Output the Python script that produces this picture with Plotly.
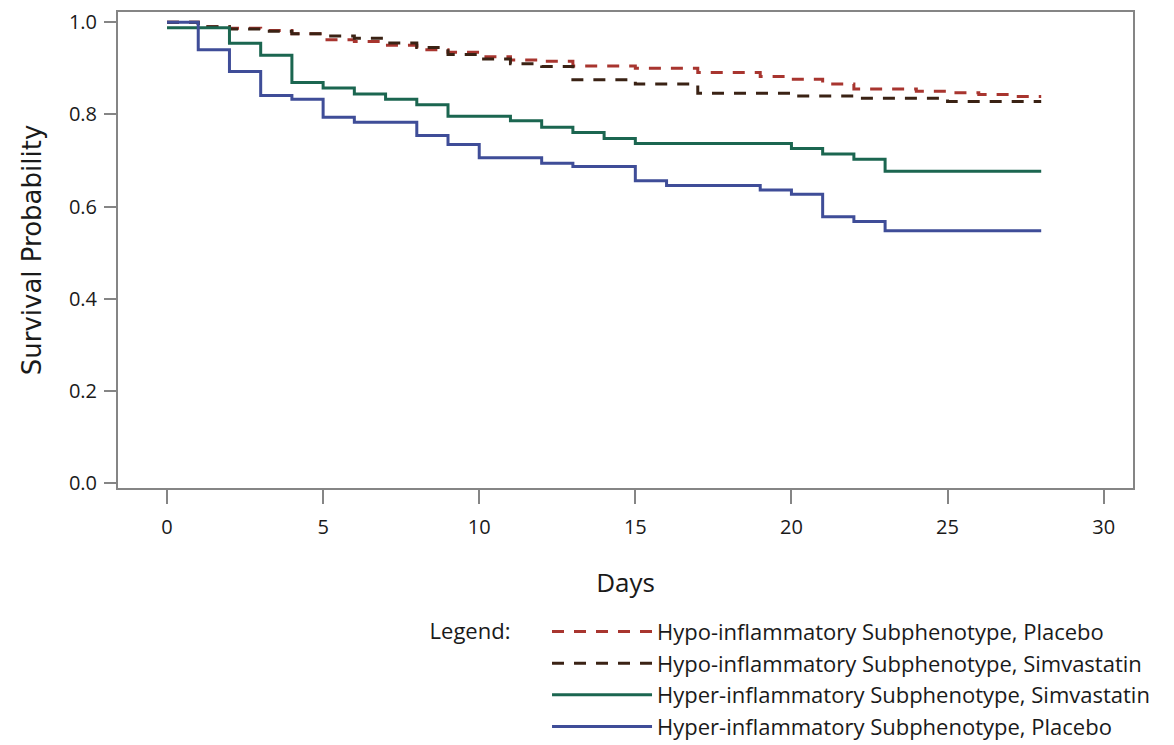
import plotly.graph_objects as go

# ---- data ----
hypo_pla_days = [0, 1, 2, 3, 4, 5, 6, 7, 8, 9, 10, 11, 12, 13, 15, 17, 19, 20, 21, 22, 24, 25, 26, 27, 28]
hypo_pla_surv = [1.0, 0.99, 0.987, 0.982, 0.975, 0.962, 0.958, 0.95, 0.94, 0.935, 0.925, 0.918, 0.915,
                 0.905, 0.90, 0.891, 0.882, 0.876, 0.866, 0.855, 0.85, 0.847, 0.843, 0.839, 0.839]

hypo_sim_days = [0, 1, 2, 3, 4, 5, 6, 7, 8, 9, 10, 11, 12, 13, 15, 17, 20, 22, 25, 28]
hypo_sim_surv = [1.0, 0.99, 0.985, 0.98, 0.975, 0.97, 0.965, 0.955, 0.945, 0.93, 0.92, 0.91, 0.904,
                 0.875, 0.866, 0.846, 0.84, 0.835, 0.828, 0.828]

hyper_sim_days = [0, 2, 3, 4, 5, 6, 7, 8, 9, 11, 12, 13, 14, 15, 20, 21, 22, 23, 28]
hyper_sim_surv = [0.988, 0.954, 0.928, 0.869, 0.857, 0.844, 0.833, 0.821, 0.796, 0.786, 0.772, 0.761,
                  0.748, 0.737, 0.726, 0.714, 0.703, 0.677, 0.677]

hyper_pla_days = [0, 1, 2, 3, 4, 5, 6, 8, 9, 10, 12, 13, 15, 16, 19, 20, 21, 22, 23, 28]
hyper_pla_surv = [1.0, 0.94, 0.893, 0.841, 0.833, 0.794, 0.783, 0.754, 0.735, 0.706, 0.694, 0.687,
                  0.656, 0.646, 0.636, 0.627, 0.578, 0.568, 0.548, 0.548]

series_names = ["Hypo-inflammatory Subphenotype, Placebo",
                "Hypo-inflammatory Subphenotype, Simvastatin",
                "Hyper-inflammatory Subphenotype, Simvastatin",
                "Hyper-inflammatory Subphenotype, Placebo"]

x_ticks = [0, 5, 10, 15, 20, 25, 30]
y_ticks = [0.0, 0.2, 0.4, 0.6, 0.8, 1.0]
y_tick_labels = ["0.0", "0.2", "0.4", "0.6", "0.8", "1.0"]

# ---- styles ----
colors = ["#A8352F", "#3A2214", "#1B6650", "#3F4D98"]
dashes = ["dash", "dash", "solid", "solid"]
data = [(hypo_pla_days, hypo_pla_surv), (hypo_sim_days, hypo_sim_surv),
        (hyper_sim_days, hyper_sim_surv), (hyper_pla_days, hyper_pla_surv)]

fig = go.Figure()
for i, (d, s) in enumerate(data):
    fig.add_trace(go.Scatter(
        x=d, y=s, mode="lines", line_shape="hv", name=series_names[i],
        line=dict(color=colors[i], width=3, dash="12px,10px" if dashes[i] == "dash" else "solid"),
        legendgroup=f"g{i}",
    ))

axis_common = dict(showline=True, linecolor="#858585", linewidth=2, mirror=True,
                   ticks="outside", tickcolor="#858585", tickwidth=2,
                   showgrid=False, zeroline=False,
                   tickfont=dict(family="Open Sans", size=20, color="#1a1a1a"))

fig.update_layout(
    width=1174, height=745,
    paper_bgcolor="white", plot_bgcolor="white",
    margin=dict(l=110, r=49, t=4, b=265, autoexpand=False),
    xaxis=dict(range=[-1.57, 30.94], tickvals=x_ticks, ticklen=14, ticklabelstandoff=6,
               title=dict(text="Days", font=dict(family="Open Sans", size=26, color="#1a1a1a"), standoff=35),
               **axis_common),
    yaxis=dict(range=[-0.01, 1.022], tickvals=y_ticks, ticktext=y_tick_labels, ticklen=12,
               ticklabelstandoff=3,
               title=dict(text="Survival Probability", font=dict(family="DejaVu Sans", size=26, color="#1a1a1a"),
                          standoff=20),
               **axis_common),
    showlegend=True,
    legend=dict(
        x=0.305, y=-0.258, xanchor="left", yanchor="top",
        title=dict(text="Legend:     ", side="left", font=dict(family="Open Sans", size=22, color="#1a1a1a")),
        font=dict(family="Open Sans", size=22, color="#1a1a1a"),
        traceorder="grouped", tracegroupgap=0, itemwidth=100,
        bgcolor="rgba(0,0,0,0)",
    ),
)

fig.write_html("out.html")
